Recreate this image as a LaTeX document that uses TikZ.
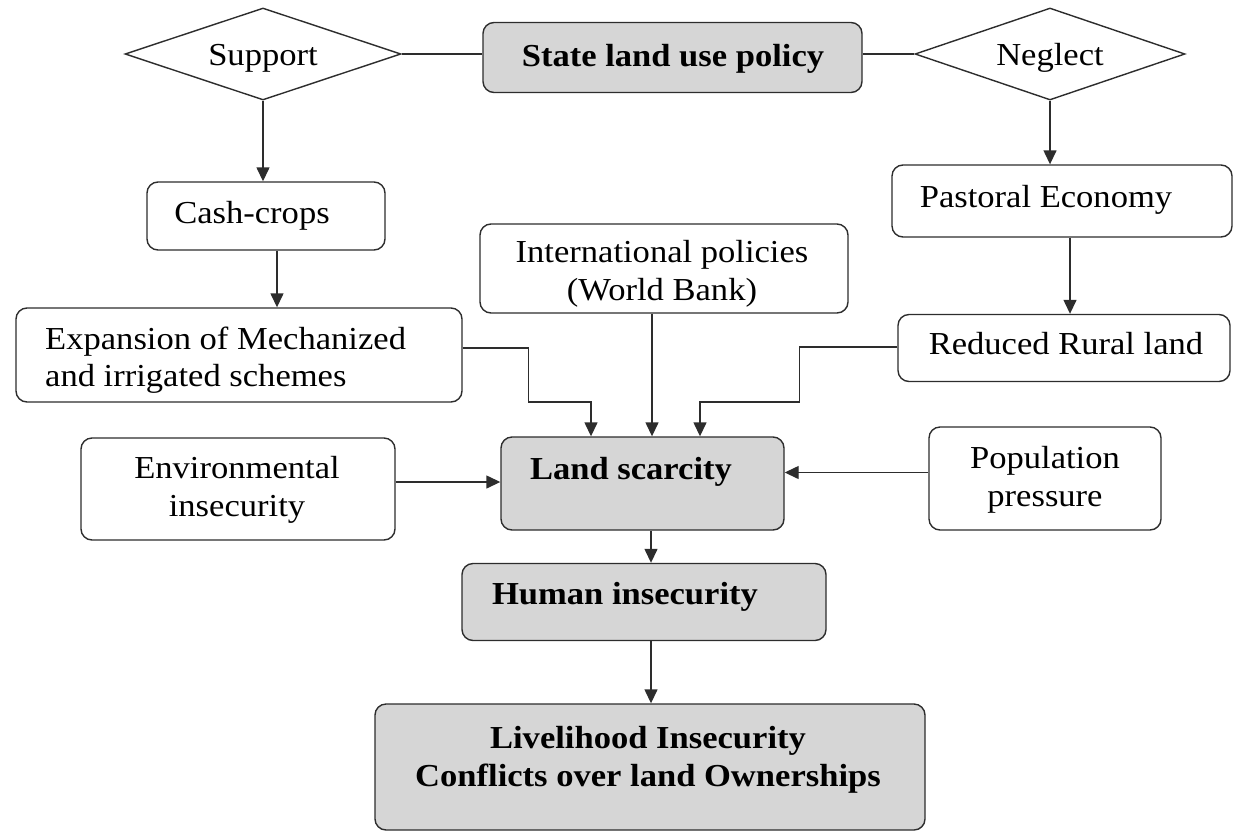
\documentclass[tikz,border=0pt]{standalone}
\usepackage{fontspec}
\setmainfont[FakeStretch=1.08]{Liberation Serif}
\usetikzlibrary{shapes.geometric,arrows.meta}
\definecolor{boxgray}{RGB}{214,214,214}
\definecolor{edge}{RGB}{45,45,45}
\tikzset{
  box/.style={draw=edge, line width=1.4pt, rounded corners=11pt, fill=white, inner sep=0pt},
  gbox/.style={box, fill=boxgray},
  dia/.style={draw=edge, line width=1.4pt, diamond, inner sep=0pt, fill=white},
  arr/.style={line width=1.4pt, draw=edge, -{Triangle[length=14pt,width=13pt]}},
  ln/.style={line width=1.4pt, draw=edge},
  txt/.style={inner sep=0pt, align=center, yshift=-4pt, font=\fontsize{32}{37.5}\selectfont},
  btxt/.style={txt, font=\fontsize{32}{37.5}\selectfont\bfseries}
}
\begin{document}
\begin{tikzpicture}[x=1pt,y=-1pt]
\useasboundingbox (0,0) rectangle (1241,833);
% shapes
\node[dia, minimum width=276pt, minimum height=92pt] (support) at (263,54) {};
\node[gbox, minimum width=379pt, minimum height=70pt] (state) at (672.5,57.5) {};
\node[dia, minimum width=270pt, minimum height=92pt] (neglect) at (1050,54) {};
\node[box, minimum width=238pt, minimum height=68pt] (cash) at (266,216) {};
\node[box, minimum width=446pt, minimum height=94pt] (exp) at (239,355) {};
\node[box, minimum width=368pt, minimum height=89pt] (intl) at (664,268.5) {};
\node[box, minimum width=340pt, minimum height=72pt] (past) at (1062,201) {};
\node[box, minimum width=332pt, minimum height=67pt] (red) at (1064,348) {};
\node[box, minimum width=314pt, minimum height=102pt] (env) at (238,489) {};
\node[gbox, minimum width=283pt, minimum height=93pt] (land) at (642.5,483.5) {};
\node[box, minimum width=232pt, minimum height=103pt] (pop) at (1045,478.5) {};
\node[gbox, minimum width=364pt, minimum height=77pt] (human) at (644,602) {};
\node[gbox, minimum width=550pt, minimum height=126pt] (live) at (650,767) {};
% texts
\node[txt] (tsupport) at (263,54) {Support};
\node[btxt] (tstate) at (673,55) {State land use policy};
\node[txt] (tneglect) at (1050,54) {Neglect};
\node[txt] (tcash) at (252,212) {Cash-crops};
\node[txt, anchor=west, align=left] (texp) at (45,356) {Expansion of Mechanized\\and irrigated schemes};
\node[txt] (tintl) at (662,270) {International policies\\(World Bank)};
\node[txt] (tpast) at (1046,196) {Pastoral Economy};
\node[txt] (tred) at (1066,340) {Reduced Rural land};
\node[txt] (tenv) at (237,486) {Environmental\\insecurity};
\node[btxt] (tland) at (631,468) {Land scarcity};
\node[txt] (tpop) at (1045,476) {Population\\pressure};
\node[btxt] (thuman) at (625,593) {Human insecurity};
\node[btxt] (tlive) at (648,756) {Livelihood Insecurity\\Conflicts over land Ownerships};
% helper coordinates
\coordinate (c1) at ([xshift=11pt]cash.south);
\coordinate (p1) at ([xshift=8pt]past.south);
\coordinate (e1) at ([yshift=7pt]exp.east);
\coordinate (l1) at ([xshift=-51.5pt]land.north);
\coordinate (i1) at ([xshift=-12pt]intl.south);
\coordinate (l2) at ([xshift=9.5pt]land.north);
\coordinate (r1) at ([yshift=1pt]red.west);
\coordinate (l3) at ([xshift=57.5pt]land.north);
\coordinate (v1) at ([yshift=7pt]env.east);
\coordinate (o1) at ([yshift=6pt]pop.west);
\coordinate (s1) at ([xshift=8.5pt]land.south);
\coordinate (h1) at ([xshift=7pt]human.south);
% connectors
\draw[ln] (support.east) -- (support.east -| state.west);
\draw[ln] (neglect.west -| state.east) -- (neglect.west);
\draw[arr] (support.south) -- (support.south |- cash.north);
\draw[arr] (c1) -- (c1 |- exp.north);
\draw[arr] (neglect.south) -- (neglect.south |- past.north);
\draw[arr] (p1) -- (p1 |- red.north);
\draw[arr] (e1) -- ++(66,0) -- ++(0,54) -| (l1);
\draw[arr] (i1) -- (l2);
\draw[arr] (r1) -- ++(-98,0) -- ++(0,55) -| (l3);
\draw[arr] (v1) -- (v1 -| land.west);
\draw[arr] (o1) -- (o1 -| land.east);
\draw[arr] (s1) -- (s1 |- human.north);
\draw[arr] (h1) -- (h1 |- live.north);
\end{tikzpicture}
\end{document}
